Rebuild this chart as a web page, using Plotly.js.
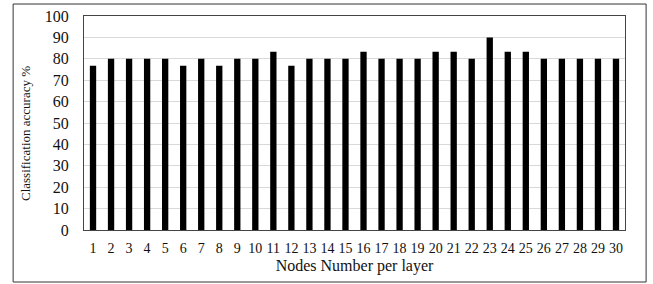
<!DOCTYPE html>
<html><head><meta charset="utf-8">
<script src="https://cdn.plot.ly/plotly-3.0.1.min.js"></script>
<style>html,body{margin:0;padding:0;background:#fff}#c{width:653px;height:284px}</style>
</head><body><div id="c"></div>
<script>
const nodes = [1,2,3,4,5,6,7,8,9,10,11,12,13,14,15,16,17,18,19,20,21,22,23,24,25,26,27,28,29,30];
const accuracy = [76.7,80,80,80,80,76.7,80,76.7,80,80,83.3,76.7,80,80,80,83.3,80,80,80,83.3,83.3,80,90,83.3,83.3,80,80,80,80,80];
const yTicks = [0,10,20,30,40,50,60,70,80,90,100];

const trace = {
  type: 'bar',
  x: nodes.map(String),
  y: accuracy,
  marker: {color: '#000'},
  width: 0.35,
  hoverinfo: 'x+y'
};
const FAM = 'Times New Roman, Liberation Serif, DejaVu Serif, serif';
const layout = {
  width: 653, height: 284,
  margin: {l: 84, r: 28, t: 16, b: 54},
  paper_bgcolor: '#fff', plot_bgcolor: '#fff',
  showlegend: false,
  font: {family: FAM, color: '#111'},
  xaxis: {
    type: 'category',
    showline: true, linecolor: '#444', linewidth: 1, mirror: true,
    ticks: '', showgrid: false, ticklabelstandoff: 5,
    tickfont: {family: FAM, size: 14, color: '#111'},
    title: {text: 'Nodes Number per layer', font: {family: FAM, size: 16, color: '#111'}, standoff: 5}
  },
  yaxis: {
    range: [0, 100], tickvals: yTicks,
    showline: true, linecolor: '#444', linewidth: 1, mirror: true,
    ticks: '', gridcolor: '#d9d9d9', gridwidth: 1, zeroline: false,
    tickfont: {family: FAM, size: 16, color: '#111'},
    ticklabelstandoff: 11
  },
  annotations: [{
    text: 'Classification accuracy %', textangle: -90,
    xref: 'paper', yref: 'paper',
    x: (25 - 84) / 541, y: (230 - 134) / 214,
    xanchor: 'center', yanchor: 'middle', showarrow: false,
    font: {family: FAM, size: 13, color: '#111'}
  }],
  shapes: [{
    type: 'rect', xref: 'paper', yref: 'paper',
    x0: -0.131, x1: 1.039, y0: -0.243, y1: 1.056,
    line: {color: '#333', width: 1}, fillcolor: 'rgba(0,0,0,0)'
  }]
};
Plotly.newPlot('c', [trace], layout, {displayModeBar: false, staticPlot: true});
</script></body></html>
